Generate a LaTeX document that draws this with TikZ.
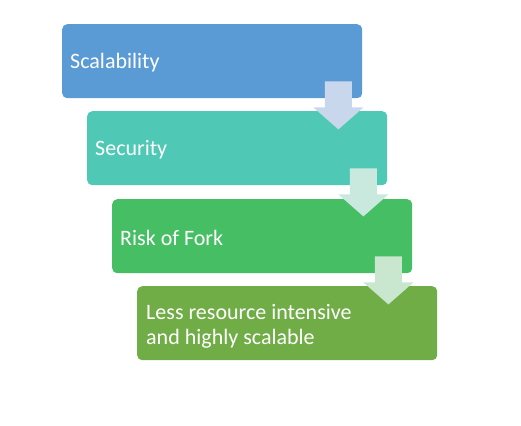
\documentclass[tikz,border=0pt]{standalone}
\usepackage{fontspec}
\setmainfont{Carlito}
\definecolor{cA}{HTML}{5B9BD5}
\definecolor{cB}{HTML}{4FC9B5}
\definecolor{cC}{HTML}{46BF64}
\definecolor{cD}{HTML}{70AD47}
\definecolor{aA}{HTML}{C9D7EC}
\definecolor{aB}{HTML}{C9E9DF}
\definecolor{aC}{HTML}{C9E6CF}
\begin{document}
\begin{tikzpicture}[x=1bp,y=-1bp,
  box/.style={rounded corners=5bp,minimum width=300bp,minimum height=74bp,inner sep=0pt,anchor=north west},
  lbl/.style={text=white,font=\fontsize{22bp}{25bp}\selectfont,anchor=west,align=left,inner sep=0pt},
  downarrow/.pic={\fill[pic actions] (-13.5,0) -- (13.5,0) -- (13.5,26) -- (25,26) -- (0,48) -- (-25,26) -- (-13.5,26) -- cycle;}]
\useasboundingbox (0,0) rectangle (521,425);
\node[box,fill=cA] (b1) at (62,24) {};
\node[box,fill=cB] (b2) at (87,111) {};
\node[box,fill=cC] (b3) at (112,199) {};
\node[box,fill=cD] (b4) at (137,286) {};
\node[lbl] (t1) at ([xshift=8bp,yshift=-1.5bp]b1.west) {Scalability};
\node[lbl] (t2) at ([xshift=8bp,yshift=-1.5bp]b2.west) {Security};
\node[lbl] (t3) at ([xshift=8bp,yshift=-1.5bp]b3.west) {Risk of Fork};
\node[lbl] (t4) at ([xshift=9bp,yshift=-3bp]b4.west) {Less resource intensive\\and highly scalable};
\coordinate (a1) at ([xshift=-24bp,yshift=17bp]b1.south east);
\coordinate (a2) at ([xshift=-24bp,yshift=17bp]b2.south east);
\coordinate (a3) at ([xshift=-24bp,yshift=17bp]b3.south east);
\pic[fill=aA] at (a1) {downarrow};
\pic[fill=aB] at (a2) {downarrow};
\pic[fill=aC] at (a3) {downarrow};
\end{tikzpicture}
\end{document}
